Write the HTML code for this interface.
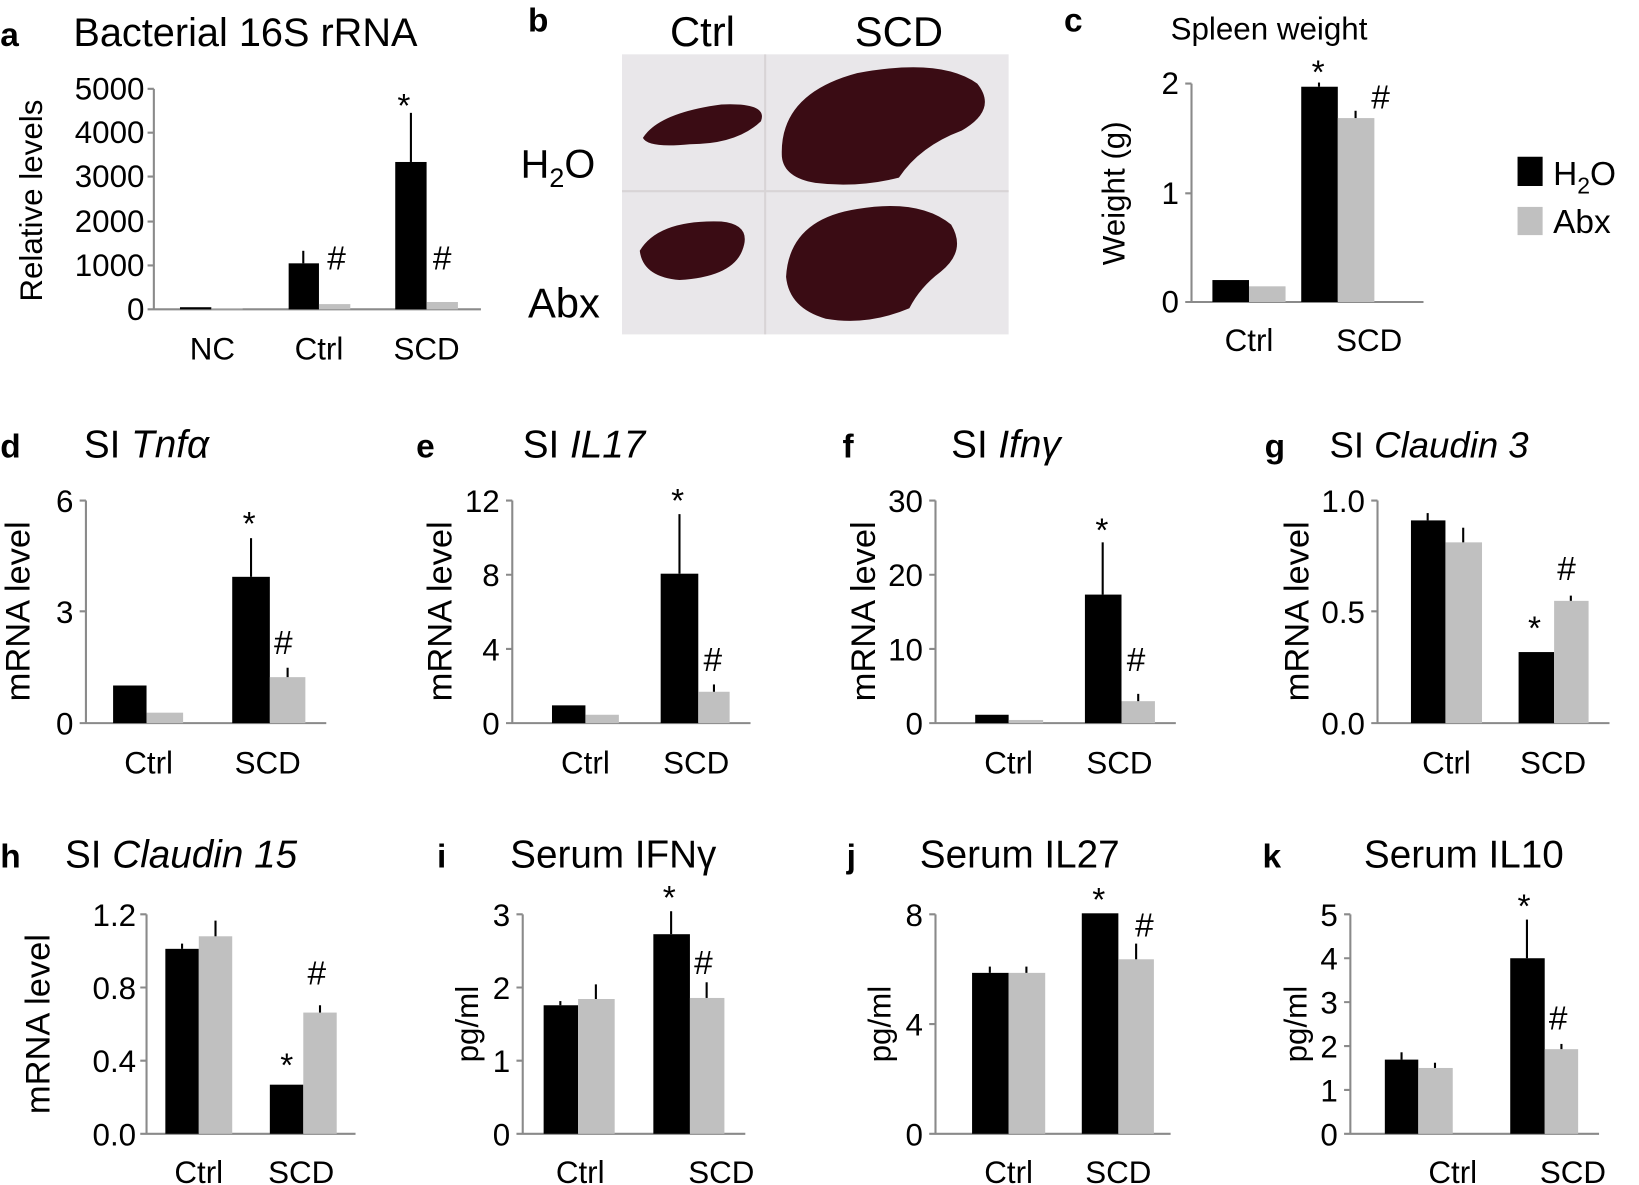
<!DOCTYPE html>
<html><head><meta charset="utf-8"><style>
html,body{margin:0;padding:0;background:#fff}
svg{display:block}
text{font-family:"Liberation Sans",Arial,sans-serif;fill:#000}
.t{font-size:30px}
.ti{font-size:37px}
.m{font-size:32px}
.yl{font-size:33px}
.p{font-size:32px;font-weight:bold}
.ax{stroke:#8a8a8a;stroke-width:2;fill:none}
.e{stroke:#000;stroke-width:2}
.g{fill:#c0c0c0}
</style></head><body>
<svg width="1639" height="1185" viewBox="0 0 1568 1134" xmlns="http://www.w3.org/2000/svg">
<!-- Panel a -->
<text class="p" x="0" y="44">a</text>
<text class="ti" x="70" y="44" style="font-size:38px">Bacterial 16S rRNA</text>
<text class="t" transform="translate(40,192) rotate(-90)" text-anchor="middle">Relative levels</text>
<path class="ax" d="M147,85 V296 H460 M141,85H147 M141,127H147 M141,169H147 M141,212H147 M141,254H147 M141,296H147"/>
<g class="t" text-anchor="end">
<text x="138" y="95">5000</text><text x="138" y="137">4000</text><text x="138" y="179">3000</text><text x="138" y="222">2000</text><text x="138" y="264">1000</text><text x="138" y="306">0</text></g>
<rect x="172" y="294" width="30" height="2"/><rect class="g" x="202" y="295" width="30" height="1"/>
<rect x="276" y="252" width="29" height="44"/><line class="e" x1="290" y1="252" x2="290" y2="240"/>
<rect class="g" x="305" y="291" width="30" height="5"/>
<rect x="378" y="155" width="30" height="141"/><line class="e" x1="393" y1="155" x2="393" y2="108"/>
<rect class="g" x="408" y="289" width="30" height="7"/>
<text class="m" x="380" y="112">*</text><text class="m" x="313" y="258">#</text><text class="m" x="414" y="258">#</text>
<g class="t" text-anchor="middle"><text x="203" y="344">NC</text><text x="305" y="344">Ctrl</text><text x="408" y="344">SCD</text></g>
<!-- Panel b -->
<text class="p" x="505" y="30">b</text>
<text class="ti" x="672" y="44" text-anchor="middle" style="font-size:40px">Ctrl</text>
<text class="ti" x="860" y="44" text-anchor="middle" style="font-size:40px">SCD</text>
<rect x="595" y="52" width="370" height="268" fill="#e9e7ea"/>
<line x1="732" y1="52" x2="732" y2="320" stroke="#d8d4d6" stroke-width="2"/>
<line x1="595" y1="183" x2="965" y2="183" stroke="#d8d4d6" stroke-width="2"/>
<path d="M615,132 Q630,108 690,100 Q735,98 728,116 Q705,138 660,138 Q620,142 615,132Z" fill="#3a0c14"/>
<path d="M748,150 Q745,90 820,70 Q900,55 935,80 Q955,105 920,125 Q880,140 860,170 Q820,180 780,175 Q750,170 748,150Z" fill="#3a0c14"/>
<path d="M612,240 Q630,210 690,212 Q720,215 710,240 Q700,265 650,268 Q615,265 612,240Z" fill="#3a0c14"/>
<path d="M752,265 Q755,210 820,200 Q880,190 910,215 Q925,240 900,260 Q880,275 870,295 Q830,312 790,305 Q755,295 752,265Z" fill="#3a0c14"/>
<text class="ti" x="498" y="170" style="font-size:38px">H<tspan font-size="26" dy="9">2</tspan><tspan dy="-9">O</tspan></text>
<text class="ti" x="505" y="304" style="font-size:40px">Abx</text>
<!-- Panel c -->
<text class="p" x="1018" y="30">c</text>
<text class="ti" x="1120" y="38" style="font-size:30px">Spleen weight</text>
<text class="t" transform="translate(1076,185) rotate(-90)" text-anchor="middle">Weight (g)</text>
<path class="ax" d="M1140,80 V289 H1362 M1134,80H1140 M1134,185H1140 M1134,289H1140"/>
<g class="t" text-anchor="end"><text x="1128" y="90">2</text><text x="1128" y="195">1</text><text x="1128" y="299">0</text></g>
<rect x="1160" y="268" width="35" height="21"/><rect class="g" x="1195" y="274" width="35" height="15"/>
<rect x="1245" y="83" width="35" height="206"/><line class="e" x1="1262" y1="83" x2="1262" y2="79"/>
<rect class="g" x="1280" y="113" width="35" height="176"/><line class="e" x1="1297" y1="113" x2="1297" y2="106"/>
<text class="m" x="1255" y="80">*</text><text class="m" x="1312" y="104">#</text>
<g class="t" text-anchor="middle"><text x="1195" y="336">Ctrl</text><text x="1310" y="336">SCD</text></g>
<rect x="1452" y="150" width="24" height="28"/><rect class="g" x="1452" y="198" width="24" height="27"/>
<text class="ti" x="1486" y="177" style="font-size:32px">H<tspan font-size="22" dy="8">2</tspan><tspan dy="-8">O</tspan></text>
<text class="ti" x="1486" y="223" style="font-size:32px">Abx</text>

<!-- Panel d -->
<text class="p" x="0" y="438">d</text>
<text class="ti" x="80" y="438">SI <tspan font-style="italic">Tnfα</tspan></text>
<text class="yl" transform="translate(28,585) rotate(-90)" text-anchor="middle">mRNA level</text>
<path class="ax" d="M82,479 V692 H312 M76,479H82 M76,585H82 M76,692H82"/>
<g class="t" text-anchor="end"><text x="70" y="490">6</text><text x="70" y="596">3</text><text x="70" y="703">0</text></g>
<rect x="108" y="656" width="32" height="36"/><rect class="g" x="140" y="682" width="35" height="10"/>
<rect x="222" y="552" width="36" height="140"/><line class="e" x1="240" y1="552" x2="240" y2="515"/>
<rect class="g" x="258" y="648" width="34" height="44"/><line class="e" x1="275" y1="648" x2="275" y2="639"/>
<text class="m" x="232" y="512">*</text><text class="m" x="262" y="626">#</text>
<g class="t" text-anchor="middle"><text x="142" y="740">Ctrl</text><text x="256" y="740">SCD</text></g>
<!-- Panel e -->
<text class="p" x="398" y="438">e</text>
<text class="ti" x="500" y="438">SI <tspan font-style="italic">IL17</tspan></text>
<text class="yl" transform="translate(432,585) rotate(-90)" text-anchor="middle">mRNA level</text>
<path class="ax" d="M490,479 V692 H718 M484,479H490 M484,550H490 M484,621H490 M484,692H490"/>
<g class="t" text-anchor="end"><text x="478" y="490">12</text><text x="478" y="561">8</text><text x="478" y="632">4</text><text x="478" y="703">0</text></g>
<rect x="528" y="675" width="32" height="17"/><rect class="g" x="560" y="684" width="32" height="8"/>
<rect x="632" y="549" width="36" height="143"/><line class="e" x1="650" y1="549" x2="650" y2="492"/>
<rect class="g" x="668" y="662" width="30" height="30"/><line class="e" x1="683" y1="662" x2="683" y2="655"/>
<text class="m" x="642" y="490">*</text><text class="m" x="673" y="642">#</text>
<g class="t" text-anchor="middle"><text x="560" y="740">Ctrl</text><text x="666" y="740">SCD</text></g>
<!-- Panel f -->
<text class="p" x="806" y="438">f</text>
<text class="ti" x="910" y="438">SI <tspan font-style="italic">Ifnγ</tspan></text>
<text class="yl" transform="translate(837,585) rotate(-90)" text-anchor="middle">mRNA level</text>
<path class="ax" d="M895,479 V692 H1125 M889,479H895 M889,550H895 M889,621H895 M889,692H895"/>
<g class="t" text-anchor="end"><text x="883" y="490">30</text><text x="883" y="561">20</text><text x="883" y="632">10</text><text x="883" y="703">0</text></g>
<rect x="933" y="684" width="32" height="8"/><rect class="g" x="965" y="689" width="33" height="3"/>
<rect x="1038" y="569" width="35" height="123"/><line class="e" x1="1055" y1="569" x2="1055" y2="519"/>
<rect class="g" x="1073" y="671" width="32" height="21"/><line class="e" x1="1089" y1="671" x2="1089" y2="664"/>
<text class="m" x="1048" y="518">*</text><text class="m" x="1078" y="642">#</text>
<g class="t" text-anchor="middle"><text x="965" y="740">Ctrl</text><text x="1071" y="740">SCD</text></g>
<!-- Panel g -->
<text class="p" x="1210" y="438">g</text>
<text class="ti" x="1272" y="438" style="font-size:35px">SI <tspan font-style="italic">Claudin 3</tspan></text>
<text class="yl" transform="translate(1252,585) rotate(-90)" text-anchor="middle">mRNA level</text>
<path class="ax" d="M1318,479 V692 H1540 M1312,479H1318 M1312,585H1318 M1312,692H1318"/>
<g class="t" text-anchor="end"><text x="1306" y="490">1.0</text><text x="1306" y="596">0.5</text><text x="1306" y="703">0.0</text></g>
<rect x="1350" y="498" width="33" height="194"/><line class="e" x1="1366" y1="498" x2="1366" y2="491"/>
<rect class="g" x="1383" y="519" width="35" height="173"/><line class="e" x1="1400" y1="519" x2="1400" y2="505"/>
<rect x="1453" y="624" width="34" height="68"/>
<rect class="g" x="1487" y="575" width="33" height="117"/><line class="e" x1="1503" y1="575" x2="1503" y2="570"/>
<text class="m" x="1462" y="612">*</text><text class="m" x="1490" y="555">#</text>
<g class="t" text-anchor="middle"><text x="1384" y="740">Ctrl</text><text x="1486" y="740">SCD</text></g>

<!-- Panel h -->
<text class="p" x="0" y="830">h</text>
<text class="ti" x="62" y="830">SI <tspan font-style="italic">Claudin 15</tspan></text>
<text class="yl" transform="translate(47,980) rotate(-90)" text-anchor="middle">mRNA level</text>
<path class="ax" d="M140,875 V1085 H340 M134,875H140 M134,945H140 M134,1015H140 M134,1085H140"/>
<g class="t" text-anchor="end"><text x="130" y="886">1.2</text><text x="130" y="956">0.8</text><text x="130" y="1026">0.4</text><text x="130" y="1096">0.0</text></g>
<rect x="158" y="908" width="32" height="177"/><line class="e" x1="174" y1="908" x2="174" y2="903"/>
<rect class="g" x="190" y="896" width="32" height="189"/><line class="e" x1="206" y1="896" x2="206" y2="881"/>
<rect x="258" y="1038" width="32" height="47"/>
<rect class="g" x="290" y="969" width="32" height="116"/><line class="e" x1="306" y1="969" x2="306" y2="962"/>
<text class="m" x="268" y="1030">*</text><text class="m" x="294" y="942">#</text>
<g class="t" text-anchor="middle"><text x="190" y="1132">Ctrl</text><text x="288" y="1132">SCD</text></g>
<!-- Panel i -->
<text class="p" x="418" y="830">i</text>
<text class="ti" x="488" y="830">Serum IFNγ</text>
<text class="t" transform="translate(457,980) rotate(-90)" text-anchor="middle">pg/ml</text>
<path class="ax" d="M500,875 V1085 H713 M494,875H500 M494,945H500 M494,1015H500 M494,1085H500"/>
<g class="t" text-anchor="end"><text x="488" y="886">3</text><text x="488" y="956">2</text><text x="488" y="1026">1</text><text x="488" y="1096">0</text></g>
<rect x="520" y="962" width="33" height="123"/><line class="e" x1="536" y1="962" x2="536" y2="958"/>
<rect class="g" x="553" y="956" width="35" height="129"/><line class="e" x1="570" y1="956" x2="570" y2="942"/>
<rect x="625" y="894" width="35" height="191"/><line class="e" x1="642" y1="894" x2="642" y2="872"/>
<rect class="g" x="660" y="955" width="33" height="130"/><line class="e" x1="676" y1="955" x2="676" y2="940"/>
<text class="m" x="634" y="870">*</text><text class="m" x="664" y="932">#</text>
<g class="t" text-anchor="middle"><text x="555" y="1132">Ctrl</text><text x="690" y="1132">SCD</text></g>
<!-- Panel j -->
<text class="p" x="810" y="830">j</text>
<text class="ti" x="880" y="830">Serum IL27</text>
<text class="t" transform="translate(852,980) rotate(-90)" text-anchor="middle">pg/ml</text>
<path class="ax" d="M895,875 V1085 H1120 M889,875H895 M889,980H895 M889,1085H895"/>
<g class="t" text-anchor="end"><text x="883" y="886">8</text><text x="883" y="991">4</text><text x="883" y="1096">0</text></g>
<rect x="930" y="931" width="35" height="154"/><line class="e" x1="947" y1="931" x2="947" y2="925"/>
<rect class="g" x="965" y="931" width="35" height="154"/><line class="e" x1="982" y1="931" x2="982" y2="925"/>
<rect x="1035" y="874" width="35" height="211"/>
<rect class="g" x="1070" y="918" width="34" height="167"/><line class="e" x1="1087" y1="918" x2="1087" y2="903"/>
<text class="m" x="1045" y="872">*</text><text class="m" x="1086" y="896">#</text>
<g class="t" text-anchor="middle"><text x="965" y="1132">Ctrl</text><text x="1070" y="1132">SCD</text></g>
<!-- Panel k -->
<text class="p" x="1208" y="830">k</text>
<text class="ti" x="1305" y="830">Serum IL10</text>
<text class="t" transform="translate(1250,980) rotate(-90)" text-anchor="middle">pg/ml</text>
<path class="ax" d="M1292,875 V1085 H1530 M1286,875H1292 M1286,917H1292 M1286,959H1292 M1286,1001H1292 M1286,1043H1292 M1286,1085H1292"/>
<g class="t" text-anchor="end"><text x="1280" y="886">5</text><text x="1280" y="928">4</text><text x="1280" y="970">3</text><text x="1280" y="1012">2</text><text x="1280" y="1054">1</text><text x="1280" y="1096">0</text></g>
<rect x="1325" y="1014" width="32" height="71"/><line class="e" x1="1341" y1="1014" x2="1341" y2="1007"/>
<rect class="g" x="1357" y="1022" width="33" height="63"/><line class="e" x1="1373" y1="1022" x2="1373" y2="1017"/>
<rect x="1445" y="917" width="33" height="168"/><line class="e" x1="1461" y1="917" x2="1461" y2="880"/>
<rect class="g" x="1478" y="1004" width="32" height="81"/><line class="e" x1="1494" y1="1004" x2="1494" y2="999"/>
<text class="m" x="1452" y="878">*</text><text class="m" x="1482" y="985">#</text>
<g class="t" text-anchor="middle"><text x="1390" y="1132">Ctrl</text><text x="1505" y="1132">SCD</text></g>
</svg>
</body></html>
